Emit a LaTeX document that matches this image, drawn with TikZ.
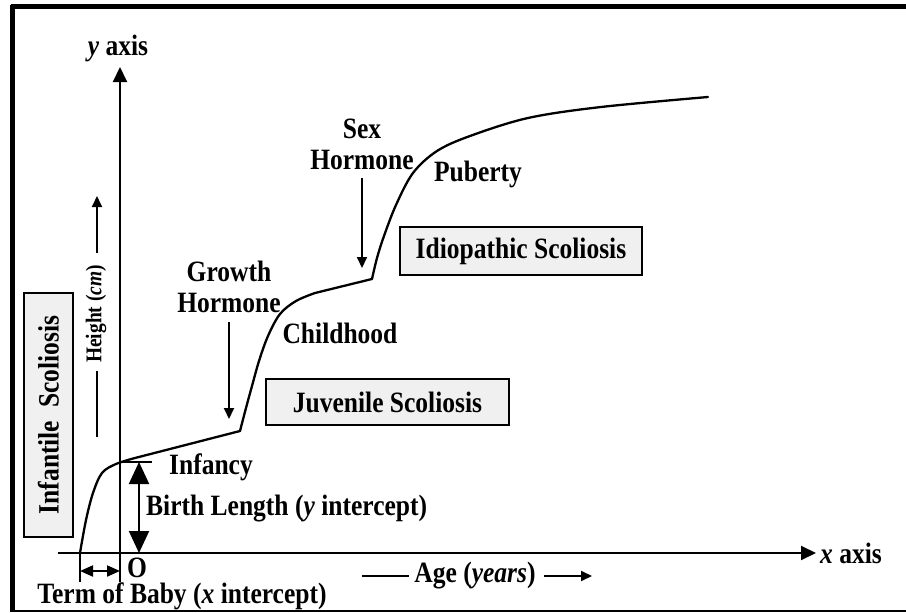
\documentclass[tikz,border=0pt]{standalone}
\usepackage{fontspec}
\setmainfont{Liberation Serif}[FakeStretch=0.865]
\usetikzlibrary{arrows.meta,calc}
\begin{document}
\begin{tikzpicture}[x=1pt,y=-1pt,
  lbl/.style={font=\fontsize{29.5}{31}\selectfont\bfseries, inner sep=0pt, align=center},
  sbox/.style={lbl, draw, line width=2.2pt, fill=black!6, inner sep=0pt},
  axisline/.style={line width=2pt, -{Triangle[length=15pt,width=14pt]}},
  harrow/.style={line width=2pt, -{Triangle[length=11pt,width=10pt]}},
  bigdouble/.style={line width=2pt, {Triangle[length=22pt,width=20pt]}-{Triangle[length=22pt,width=20pt]}},
  smalldouble/.style={line width=2pt, {Triangle[length=13pt,width=11pt]}-{Triangle[length=13pt,width=11pt]}},
  curve/.style={line width=2.3pt, line join=round, line cap=round}]
\useasboundingbox (0,0) rectangle (906,613);
\fill[white] (0,0) rectangle (906,613);
% frame
\draw[line width=4.5pt] (10.5,6.5) -- (906,6.5);
\draw[line width=5pt] (12.5,4.5) -- (12.5,612);
\draw[line width=2pt] (10,611) -- (906,611);

% axes
\coordinate (O) at (120,553);
\coordinate (ybot) at (120,582);
\coordinate (ytop) at (120,67);
\coordinate (xleft) at (58,553);
\coordinate (xright) at (816,553);
\draw[line width=2pt] (ybot) -- (O);
\draw[axisline] (O) -- (ytop);
\draw[axisline] (xleft) -- (xright);
\node[lbl] (ylab) at (118,48) {\textit{y} axis};
\node[lbl, anchor=west] (xlab) at (820,553) {\textit{x} axis};

% term of baby
\coordinate (t0) at (80,582);
\coordinate (t1) at (80,551);
\draw[line width=2pt] (t0) -- (t1);
\coordinate (ta) at (80,571);
\coordinate (tb) at (120,571);
\draw[smalldouble] (ta) -- (tb);
\node[lbl, text depth=0pt, anchor=base] (olab) at (137,577) {O};
\node[lbl, anchor=base] (term) at (182,603) {Term of Baby (\textit{x} intercept)};

% birth length
\coordinate (bl0) at (120,462);
\coordinate (bl1) at (152,462);
\draw[line width=2pt] (bl0) -- (bl1);
\coordinate (ba) at (139,462);
\coordinate (bb) at (139,553);
\draw[bigdouble] (ba) -- (bb);
\node[lbl, anchor=west] (birth) at (146,509) {Birth Length (\textit{y} intercept)};
\node[lbl] (infancy) at (211,467) {Infancy};

% growth curve
\draw[curve] plot[smooth, tension=0.55] coordinates {(80,553) (86,520) (93,493) (102,473) (116,464) (135,458)} -- (240,431);
\draw[curve] plot[smooth, tension=0.55] coordinates {(240,431) (246,408) (252,386) (259,361) (268,336) (280,314) (296,301) (315,293)} -- (372,279);
\draw[curve] plot[smooth, tension=0.55] coordinates {(372,279) (377,258) (384,236) (396,205) (413,173) (437,151) (470,136) (528,118) (601,107) (708,97)};

% hormones
\node[lbl] (gh) at (229,287) {Growth\\Hormone};
\coordinate (gha) at (229,322);
\coordinate (ghb) at (229,419);
\draw[harrow] (gha) -- (ghb);
\node[lbl] (sh) at (362,144) {Sex\\Hormone};
\coordinate (sha) at (362,178);
\coordinate (shb) at (362,268);
\draw[harrow] (sha) -- (shb);

% phases
\node[lbl] (child) at (340,333) {Childhood};
\node[lbl] (pub) at (478,174) {Puberty};

% boxes
\node[sbox, minimum width=243pt, minimum height=46pt] (juv) at (387.5,402) {Juvenile Scoliosis};
\node[sbox, minimum width=242pt, minimum height=48pt] (idio) at (521,251) {Idiopathic Scoliosis};
\node[sbox, rotate=90, minimum width=244pt, minimum height=49pt] (inf) at (48.5,415) {Infantile\ \ Scoliosis};

% height label
\node[lbl, rotate=90, font=\fontsize{22.5}{25}\selectfont\bfseries] (height) at (96,314) {Height (\textit{cm})};
\coordinate (hl0) at (97,437);
\coordinate (hl1) at (97,371);
\draw[line width=2pt] (hl0) -- (hl1);
\coordinate (ha0) at (97,253);
\coordinate (ha1) at (97,196);
\draw[harrow] (ha0) -- (ha1);

% age label
\node[lbl] (age) at (475,576) {Age (\textit{years})};
\coordinate (al0) at (362,576);
\coordinate (al1) at (409,576);
\draw[line width=2pt] (al0) -- (al1);
\coordinate (aa0) at (544,576);
\coordinate (aa1) at (592,576);
\draw[harrow] (aa0) -- (aa1);
\end{tikzpicture}
\end{document}
